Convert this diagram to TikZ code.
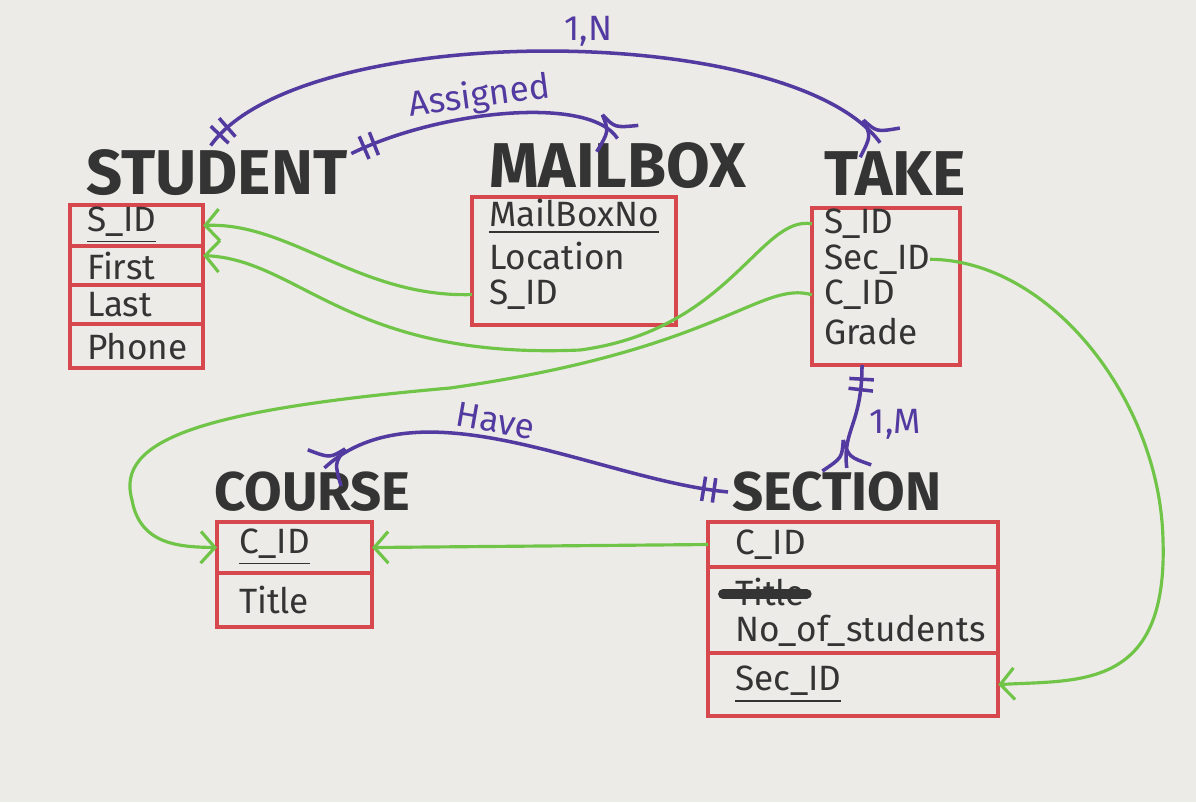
\documentclass[tikz,border=0pt]{standalone}
\usepackage{fontspec}
\setmainfont{Fira Sans}
\usepackage{xcolor}
\usepackage{tikz}
\usetikzlibrary{arrows.meta, positioning, decorations.markings}
\definecolor{paper}{RGB}{236,235,231}
\definecolor{boxred}{RGB}{214,72,78}
\definecolor{fkgreen}{RGB}{112,196,72}
\definecolor{relpurple}{RGB}{82,58,160}
\definecolor{ink}{RGB}{52,52,52}
\tikzset{
  entity/.style={font=\fontsize{18}{18}\selectfont\bfseries, text=ink, inner sep=1pt},
  fieldrow/.style={draw=boxred, line width=1.1pt, outer sep=0pt, align=left, inner ysep=0pt, font=\fontsize{10}{12}\selectfont, text=ink},
  fieldtxt/.style={align=left, inner ysep=0pt, outer sep=0pt, font=\fontsize{10}{12}\selectfont, text=ink},
  tablebox/.style={draw=boxred, line width=1.1pt, inner sep=0pt, outer sep=0pt},
  fk/.style={draw=fkgreen, line width=0.9pt, -{Straight Barb[length=4pt,width=9pt]}},
  rel/.style={draw=relpurple, line width=1pt},
  relmark/.style={draw=relpurple, line width=1pt},
  relabel/.style={font=\fontsize{10}{12}\selectfont, text=relpurple, inner sep=1pt},
  onebar/.style={postaction={decorate, decoration={markings,
    mark=at position 4pt with {\draw[relmark] (0,-3.5pt) -- (0,3.5pt);},
    mark=at position 7pt with {\draw[relmark] (0,-3.5pt) -- (0,3.5pt);}}}},
  crowfoot/.style={postaction={decorate, decoration={markings,
    mark=at position 0.9999 with {\draw[relmark] (-8pt,0) .. controls (-3pt,1pt) .. (0,7pt);
      \draw[relmark] (-8pt,0) .. controls (-3pt,-1pt) .. (0,-7pt);}}}},
  scribble/.style={draw=ink, line width=2.8pt, line cap=round}
}
\begin{document}
\begin{tikzpicture}[x=0.01cm, y=-0.01cm]
\useasboundingbox (0,0) rectangle (1196,802);
\fill[paper] (0,0) rectangle (1196,802);

% STUDENT
\node[fieldrow, text width=0.99cm, inner xsep=0.17cm, minimum height=0.41cm, anchor=north west] (st1) at (70,205) {\underline{S\_ID}};
\node[fieldrow, text width=0.99cm, inner xsep=0.17cm, minimum height=0.39cm, below=0pt of st1] (st2) {First};
\node[fieldrow, text width=0.99cm, inner xsep=0.17cm, minimum height=0.39cm, below=0pt of st2] (st3) {Last};
\node[fieldrow, text width=0.99cm, inner xsep=0.17cm, minimum height=0.44cm, below=0pt of st3] (st4) {Phone};
\node[entity, above right=0.05cm and 0.12cm of st1.north west] (stt) {STUDENT};

% MAILBOX
\node[tablebox, minimum width=2.04cm, minimum height=1.28cm, anchor=north west] (mb) at (472,197) {};
\node[fieldtxt, text width=1.7cm, inner xsep=0.17cm, minimum height=0.39cm, anchor=north west] (mb1) at (mb.north west) {\underline{MailBoxNo}};
\node[fieldtxt, text width=1.7cm, inner xsep=0.17cm, minimum height=0.39cm, below=0pt of mb1] (mb2) {Location};
\node[fieldtxt, text width=1.7cm, inner xsep=0.17cm, minimum height=0.39cm, below=0pt of mb2] (mb3) {S\_ID};
\node[entity, above right=0.04cm and 0.13cm of mb.north west] (mbt) {MAILBOX};

% TAKE
\node[tablebox, minimum width=1.48cm, minimum height=1.57cm, anchor=north west] (tk) at (812,208) {};
\node[fieldtxt, text width=1.24cm, inner xsep=0.12cm, minimum height=0.355cm, anchor=north west] (tk1) at ([yshift=0.02cm]tk.north west) {S\_ID};
\node[fieldtxt, text width=1.24cm, inner xsep=0.12cm, minimum height=0.355cm, below=0pt of tk1] (tk2) {Sec\_ID};
\node[fieldtxt, text width=1.24cm, inner xsep=0.12cm, minimum height=0.355cm, below=0pt of tk2] (tk3) {C\_ID};
\node[fieldtxt, text width=1.24cm, inner xsep=0.12cm, minimum height=0.38cm, below=0pt of tk3] (tk4) {Grade};
\node[entity, above right=0.08cm and 0.08cm of tk.north west] (tkt) {TAKE};

% COURSE
\node[fieldrow, text width=1.11cm, inner xsep=0.22cm, minimum height=0.51cm, anchor=north west] (co1) at (217,522) {\underline{C\_ID}};
\node[fieldrow, text width=1.11cm, inner xsep=0.22cm, minimum height=0.54cm, below=0pt of co1] (co2) {Title};
\node[entity, font=\fontsize{15.5}{16}\selectfont\bfseries, above right=0.06cm and -0.07cm of co1.north west] (cot) {COURSE};

% SECTION
\node[fieldrow, text width=2.36cm, inner xsep=0.27cm, minimum height=0.45cm, anchor=north west] (sc1) at (708,522) {C\_ID};
\node[fieldrow, text width=2.36cm, inner xsep=0.27cm, minimum height=0.86cm, below=0pt of sc1] (sc2) {};
\node[fieldrow, text width=2.36cm, inner xsep=0.27cm, minimum height=0.63cm, below=0pt of sc2] (sc3) {\underline{Sec\_ID}};
\node[fieldtxt, inner sep=0pt, anchor=west] (scold) at ([xshift=0.27cm, yshift=-0.25cm]sc2.north west) {Title};
\node[fieldtxt, inner sep=0pt, anchor=west] (scnos) at ([xshift=0.27cm, yshift=0.22cm]sc2.south west) {No\_of\_students};
\draw[scribble] ([xshift=-0.12cm, yshift=-0.02cm]scold.west) -- ([xshift=0.02cm, yshift=-0.02cm]scold.east);
\node[entity, font=\fontsize{15.5}{16}\selectfont\bfseries, above right=0.06cm and 0.2cm of sc1.north west] (sct) {SECTION};

% relationships
\draw[rel, onebar, crowfoot] ([xshift=-0.06cm]stt.north) .. controls (300,20) and (790,20) .. node[pos=0.55, above, relabel] {1,N} ([xshift=-0.15cm, yshift=0.05cm]tkt.north);
\draw[rel, onebar, crowfoot] ([yshift=-0.08cm]stt.north east) .. controls (440,110) and (590,95) .. node[pos=0.42, above, sloped, relabel, inner sep=0pt] {Assigned} (mbt.north);
\draw[rel, onebar, crowfoot] ([xshift=-0.24cm]tk.south) .. controls (862,425) and (842,430) .. node[pos=0.5, right=0.12cm, relabel] {1,M} ([xshift=0.1cm]sct.north);
\draw[rel, onebar, crowfoot] (sct.west) .. controls (600,480) and (420,380) .. node[pos=0.55, above, sloped, relabel] {Have} ([xshift=0.12cm]cot.north);

% foreign keys
\draw[fk] (mb3.west) .. controls (360,298) and (290,222) .. (st1.east);
\draw[fk] (tk1.west) .. controls (760,215) and (730,330) .. (580,350) .. controls (350,360) and (300,260) .. ([yshift=0.1cm]st2.east);
\draw[fk] (tk3.west) .. controls (760,280) and (720,350) .. (450,388) .. controls (200,410) and (115,440) .. (132,500) .. controls (140,545) and (180,547) .. (co1.west);
\draw[fk] (sc1.west) -- (co1.east);
\draw[fk] ([xshift=-0.3cm]tk2.east) .. controls (1050,260) and (1160,400) .. (1163,540) .. controls (1168,690) and (1080,680) .. (sc3.east);
\end{tikzpicture}
\end{document}
